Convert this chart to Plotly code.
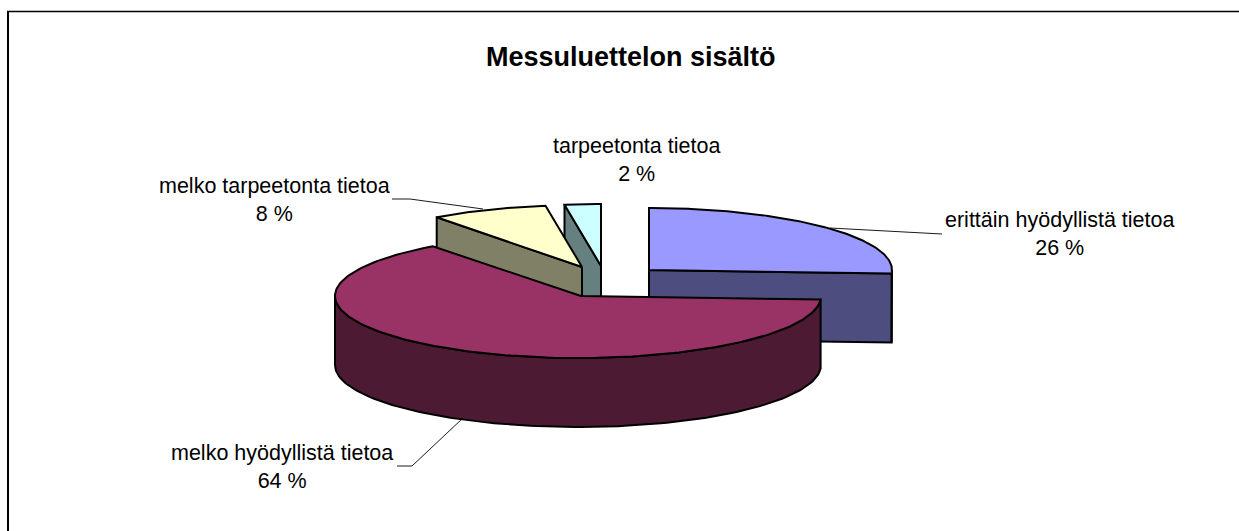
import numpy as np
import plotly.graph_objects as go

categories = ["erittäin hyödyllistä tietoa", "melko hyödyllistä tietoa",
              "melko tarpeetonta tietoa", "tarpeetonta tietoa"]
shares = [25.9, 63.9, 7.8, 2.4]
top_colors = ["#9999FF", "#993366", "#FFFFCC", "#CCFFFF"]
side_colors = ["#4D4D80", "#4D1A33", "#808066", "#668080"]
title_text = "Messuluettelon sisältö"

# pie geometry (pixel space of the 1239x531 page)
RX, RY, DEPTH = 243, 62, 69
APEX_X = [649, 581, 582, 601]
RIM_X = [649, 578, 582, 601]
APEX_Y = [270, 296, 267, 266]
draw_order = [3, 2, 0, 1]

LABEL_POS = [(1059, 234), (282, 467), (274, 200), (636, 160)]
LEADERS = [[(830, 228), (942, 234)],
           [(463, 418), (412, 466), (397, 466)],
           [(392, 199), (410, 199), (483, 209)],
           []]
LW = 2

total = sum(shares)
edges = np.cumsum([0] + shares) / total * 360.0


def rim(a, cx, cy):
    r = np.radians(a)
    return cx + RX * np.sin(r), cy - RY * np.cos(r)


fig = go.Figure()


def poly(xs, ys, fill=None, width=LW):
    fig.add_trace(go.Scatter(
        x=list(xs), y=list(ys), mode="lines",
        fill="toself" if fill else "none", fillcolor=fill,
        line=dict(color="black", width=width), hoverinfo="skip", showlegend=False))


for i in draw_order:
    a0, a1 = edges[i], edges[i + 1]
    cx, cy = APEX_X[i], APEX_Y[i]
    rx = RIM_X[i]
    side = side_colors[i]
    # radial walls that face the viewer
    if np.sin(np.radians(a0)) < -1e-6:
        ex, ey = rim(a0, rx, cy)
        poly([cx, ex, ex, cx, cx], [cy, ey, ey + DEPTH, cy + DEPTH, cy], side)
    if np.sin(np.radians(a1)) > 1e-6:
        ex, ey = rim(a1, rx, cy)
        poly([cx, ex, ex, cx, cx], [cy, ey, ey + DEPTH, cy + DEPTH, cy], side)
    # outer wall: the front half of the rim only
    w0, w1 = max(a0, 90), min(a1, 270)
    if w1 > w0:
        t = np.linspace(w0, w1, 120)
        ax, ay = rim(t, rx, cy)
        poly(np.r_[ax, ax[::-1], ax[0]], np.r_[ay, ay[::-1] + DEPTH, ay[0]], side)
    # top face
    t = np.linspace(a0, a1, 160)
    ax, ay = rim(t, rx, cy)
    poly(np.r_[cx, ax, cx], np.r_[cy, ay, cy], top_colors[i])

for seg in LEADERS:
    if seg:
        poly([p[0] for p in seg], [p[1] for p in seg], None, 0.9)

annotations = [dict(x=631, y=57, text=f"<b>{title_text}</b>", showarrow=False,
                    font=dict(family="Liberation Sans", size=27, color="black"),
                    xanchor="center", yanchor="middle")]
for name, val, (lx, ly) in zip(categories, shares, LABEL_POS):
    annotations.append(dict(x=lx, y=ly, text=f"{name}<br>{round(val)} %", showarrow=False,
                            align="center", xanchor="center", yanchor="middle",
                            font=dict(family="Liberation Sans", size=21.5, color="black")))

fig.update_layout(
    width=1239, height=531, margin=dict(l=0, r=0, t=0, b=0),
    paper_bgcolor="white", plot_bgcolor="white", showlegend=False,
    xaxis=dict(range=[0, 1239], visible=False, fixedrange=True),
    yaxis=dict(range=[531, 0], visible=False, fixedrange=True),
    annotations=annotations,
    shapes=[dict(type="line", x0=8, x1=8, y0=11, y1=531, line=dict(color="black", width=2)),
            dict(type="line", x0=7, x1=1239, y0=11.5, y1=11.5, line=dict(color="black", width=1.5))],
)
fig.write_html("out.html", config={"displayModeBar": False},
               post_script="document.body.style.margin='0';document.documentElement.style.overflow='hidden';")
